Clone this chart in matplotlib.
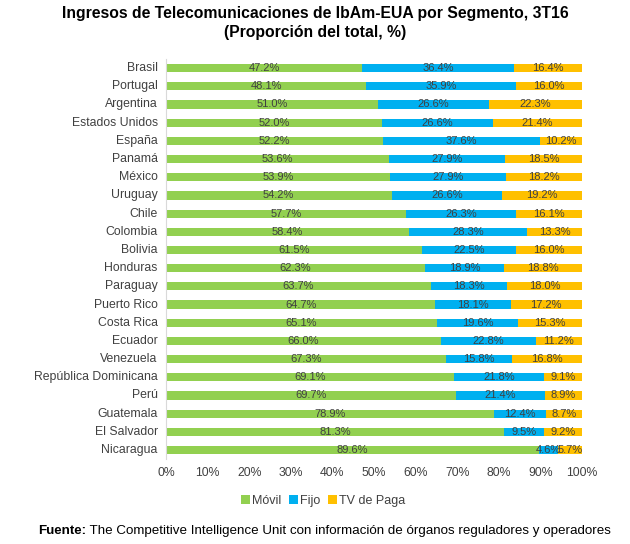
import matplotlib.pyplot as plt
import numpy as np

plt.rcParams['font.family'] = ['Liberation Sans', 'DejaVu Sans']

paises = ['Brasil', 'Portugal', 'Argentina', 'Estados Unidos', 'España', 'Panamá',
          'México', 'Uruguay', 'Chile', 'Colombia', 'Bolivia', 'Honduras', 'Paraguay',
          'Puerto Rico', 'Costa Rica', 'Ecuador', 'Venezuela', 'República Dominicana',
          'Perú', 'Guatemala', 'El Salvador', 'Nicaragua']
movil = [47.2, 48.1, 51.0, 52.0, 52.2, 53.6, 53.9, 54.2, 57.7, 58.4, 61.5, 62.3,
         63.7, 64.7, 65.1, 66.0, 67.3, 69.1, 69.7, 78.9, 81.3, 89.6]
fijo = [36.4, 35.9, 26.6, 26.6, 37.6, 27.9, 27.9, 26.6, 26.3, 28.3, 22.5, 18.9,
        18.3, 18.1, 19.6, 22.8, 15.8, 21.8, 21.4, 12.4, 9.5, 4.6]
tv = [16.4, 16.0, 22.3, 21.4, 10.2, 18.5, 18.2, 19.2, 16.1, 13.3, 16.0, 18.8,
      18.0, 17.2, 15.3, 11.2, 16.8, 9.1, 8.9, 8.7, 9.2, 5.7]

series = [('Móvil', movil, '#92D050'), ('Fijo', fijo, '#00B0F0'), ('TV de Paga', tv, '#FFC000')]

fig = plt.figure(figsize=(6.3, 5.44), dpi=100)
ax = fig.add_axes([0.2635, 0.156, 0.6605, 0.7355])

y = np.arange(len(paises))
left = np.zeros(len(paises))
for nombre, vals, color in series:
    vals = np.array(vals)
    bars = ax.barh(y, vals, left=left, height=0.45, color=color, label=nombre)
    for b, v, l in zip(bars, vals, left):
        ax.text(l + v / 2, b.get_y() + b.get_height() / 2, f'{v:.1f}%',
                ha='center', va='center', fontsize=8, color='#404040')
    left = left + vals

ax.set_ylim(len(paises) - 0.5, -0.5)
ax.set_xlim(0, 100)
ax.set_yticks(y)
ax.set_yticklabels(paises, fontsize=8.8, color='#404040', va='center')
ax.set_xticks(np.arange(0, 101, 10))
ax.set_xticklabels([f'{t}%' for t in range(0, 101, 10)], fontsize=8.8, color='#404040')
ax.tick_params(axis='both', length=0, pad=6)
for s in ['top', 'right', 'bottom']:
    ax.spines[s].set_visible(False)
ax.spines['left'].set_color('#D9D9D9')

ax.legend(loc='upper center', bbox_to_anchor=(0.378, -0.062), ncol=3, frameon=False,
          fontsize=9, handlelength=0.7, handleheight=0.7, handletextpad=0.2,
          columnspacing=0.6, labelcolor='#404040')

fig.text(0.5, 0.975, 'Ingresos de Telecomunicaciones de IbAm-EUA por Segmento, 3T16',
         ha='center', va='center', fontsize=11.3, fontweight='bold')
fig.text(0.5, 0.941, '(Proporción del total, %)', ha='center', va='center',
         fontsize=11.3, fontweight='bold')

# fuente: parte en negrita y el resto pegado a continuación
fuente = fig.text(0.06, 0.024, 'Fuente:', ha='left', va='center', fontsize=9.6,
                  fontweight='bold')
fig.add_artist(plt.Annotation(
    ' The Competitive Intelligence Unit con información de órganos reguladores y operadores',
    xy=(1, 0.5), xycoords=fuente, ha='left', va='center', fontsize=9.6,
    annotation_clip=False))
fig.savefig('out.png', dpi=100)
